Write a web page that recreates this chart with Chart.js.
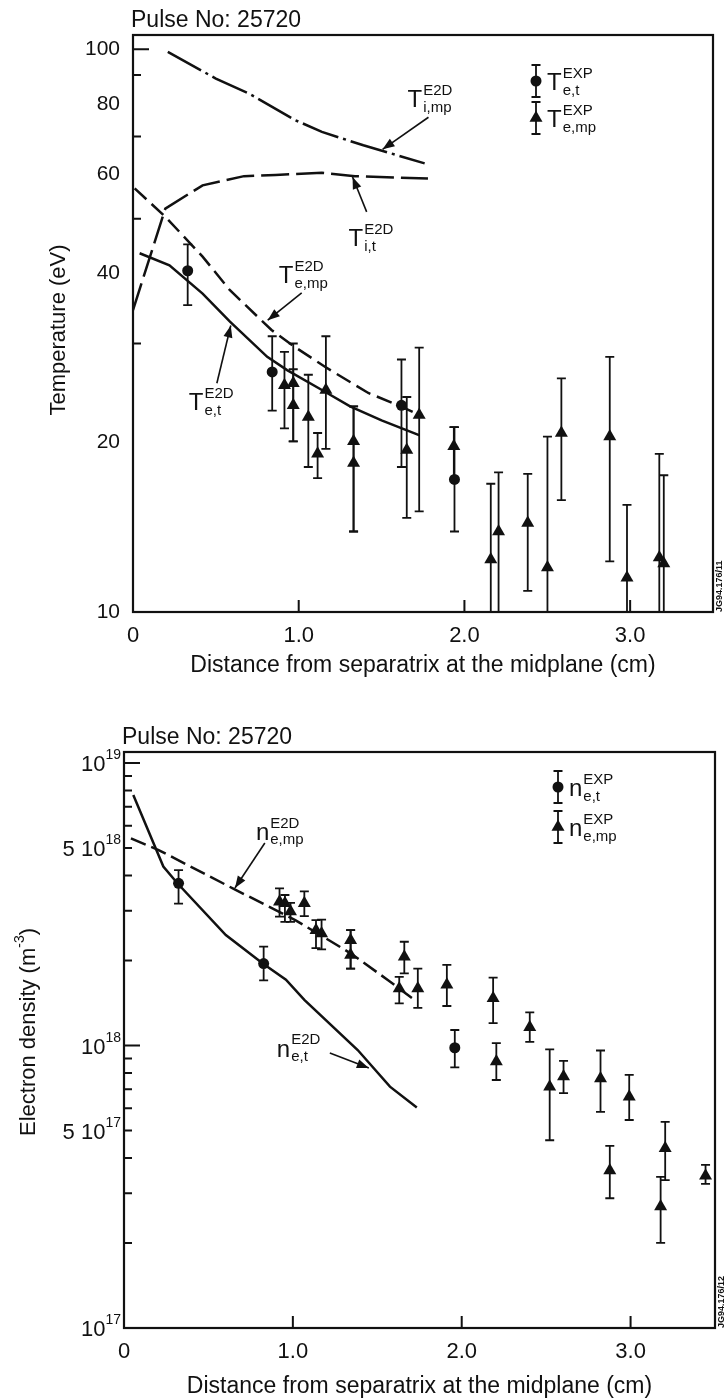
<!DOCTYPE html>
<html>
<head>
<meta charset="utf-8">
<script src="https://cdn.jsdelivr.net/npm/chart.js@4.4.0/dist/chart.umd.min.js"></script>
<style>
body { margin: 0; background: #fff; width: 724px; height: 1398px; position: relative; overflow: hidden; }
canvas { position: absolute; left: 0; }
#temp { top: 0; }
#dens { top: 690px; }
</style>
</head>
<body>
<canvas id="temp" width="724" height="690"></canvas>
<canvas id="dens" width="724" height="708"></canvas>
<script>
// ---- shared x axis ----
var xTickVals = [0, 1, 2, 3];
var xTickLabels = ['0', '1.0', '2.0', '3.0'];

// ---- temperature chart (top) ----
var tempTickVals = [10, 20, 30, 40, 50, 60, 70, 80, 90, 100];
var tempTickLabels = ['10', '20', '', '40', '', '60', '', '80', '', '100'];
var tempInnerTicks = [30, 50, 70, 90, 100];
var tempLongTicks = [100];

// E2D model curves
var tiMpX = [0.21, 0.50, 0.70, 0.98, 1.14, 1.39, 1.76];
var tiMpY = [98.9, 88.7, 83.4, 74.8, 71.3, 67.5, 62.7];
var tiTX = [0.0, 0.195, 0.42, 0.67, 0.86, 1.14, 1.34, 1.78];
var tiTY = [34.4, 52.1, 57.3, 59.5, 59.8, 60.3, 59.5, 58.9];
var teMpX = [0.01, 0.195, 0.42, 0.585, 0.836, 0.975, 1.156, 1.42, 1.616, 1.727];
var teMpY = [56.6, 50.4, 42.8, 37.3, 31.7, 29.6, 27.3, 24.5, 23.2, 22.4];
var teTX = [0.04, 0.22, 0.42, 0.585, 0.81, 0.93, 1.14, 1.31, 1.50, 1.73];
var teTY = [43.4, 41.3, 36.8, 32.8, 28.4, 26.9, 24.8, 23.2, 21.9, 20.6];

// measured Te at target (circles)
var teTExpX = [0.33, 0.84, 1.62, 1.94];
var teTExpY = [40.4, 26.7, 23.3, 17.2];
var teTExpLo = [35.1, 22.8, 18.1, 13.9];
var teTExpHi = [45.0, 30.9, 28.1, 21.3];

// measured Te at midplane (triangles)
var teMpExpX = [0.914, 0.967, 0.967, 1.058, 1.114, 1.164, 1.331, 1.331, 1.652, 1.727, 1.936, 2.159, 2.206, 2.382, 2.501, 2.585, 2.877, 2.981, 3.176, 3.203];
var teMpExpY = [25.3, 25.5, 23.3, 22.2, 19.1, 24.8, 20.1, 18.4, 19.4, 22.4, 19.7, 12.4, 13.9, 14.4, 12.0, 20.8, 20.5, 11.5, 12.5, 12.2];
var teMpExpLo = [21.2, 20.1, 20.1, 18.1, 17.3, 19.5, 13.9, 13.9, 14.7, 15.1, 17.2, 10, 10, 10.9, 10, 15.8, 12.3, 10, 10, 10];
var teMpExpHi = [29.0, 30.0, 27.0, 26.4, 20.8, 30.9, 23.2, 23.2, 24.1, 29.5, 21.3, 16.9, 17.7, 17.6, 20.5, 26.0, 28.4, 15.5, 19.1, 17.5];

// curve labels: T^E2D_sub, anchored at (x, y) = left/baseline of the T
var tempLabelX = [1.657, 1.301, 0.88, 0.337];
var tempLabelY = [78.9, 44.7, 38.4, 22.85];
var tempLabelSub = ['i,mp', 'i,t', 'e,mp', 'e,t'];
// arrows: tail -> head
var tempArrowX1 = [1.783, 1.41, 1.018, 0.506];
var tempArrowY1 = [75.7, 51.4, 36.9, 25.5];
var tempArrowX2 = [1.506, 1.325, 0.813, 0.59];
var tempArrowY2 = [66.4, 59.3, 33.0, 32.3];

// ---- density chart (bottom) ----
var densLabelVals = [1e17, 5e17, 1e18, 5e18, 1e19];
var densLabelBase = ['10', '5 10', '10', '5 10', '10'];
var densLabelExp = ['17', '17', '18', '18', '19'];
var densInnerTicks = [2e17, 3e17, 4e17, 5e17, 6e17, 7e17, 8e17, 9e17, 1e18, 2e18, 3e18, 4e18, 5e18, 6e18, 7e18, 8e18, 9e18, 1e19];
var densLongTicks = [1e18, 1e19];

var neTX = [0.055, 0.233, 0.315, 0.603, 0.822, 0.959, 1.068, 1.384, 1.575, 1.734];
var neTY = [7.7e18, 4.3e18, 3.76e18, 2.46e18, 1.95e18, 1.71e18, 1.45e18, 9.64e17, 7.15e17, 6.03e17];
var neMpX = [0.041, 0.205, 0.644, 1.014, 1.178, 1.342, 1.56, 1.707];
var neMpY = [5.41e18, 4.92e18, 3.6e18, 2.78e18, 2.43e18, 2.12e18, 1.71e18, 1.47e18];

var neTExpX = [0.323, 0.827, 1.959];
var neTExpY = [3.75e18, 1.95e18, 9.82e17];
var neTExpLo = [3.18e18, 1.70e18, 8.37e17];
var neTExpHi = [4.18e18, 2.24e18, 1.135e18];

var neMpExpX = [0.921, 0.953, 0.986, 1.068, 1.137, 1.170, 1.342, 1.342, 1.66, 1.63, 1.74, 1.912, 2.186, 2.403, 2.205, 2.521, 2.603, 2.822, 2.992, 2.877, 3.178, 3.205, 3.444];
var neMpExpY = [3.23e18, 3.19e18, 2.98e18, 3.19e18, 2.56e18, 2.49e18, 2.36e18, 2.09e18, 2.06e18, 1.59e18, 1.59e18, 1.64e18, 1.47e18, 1.16e18, 8.77e17, 7.15e17, 7.76e17, 7.65e17, 6.59e17, 3.61e17, 2.69e17, 4.33e17, 3.46e17];
var neMpExpLo = [2.86e18, 2.74e18, 2.74e18, 2.87e18, 2.21e18, 2.19e18, 1.87e18, 1.87e18, 1.80e18, 1.41e18, 1.36e18, 1.38e18, 1.20e18, 1.03e18, 7.55e17, 4.62e17, 6.78e17, 5.82e17, 5.45e17, 2.88e17, 2.0e17, 3.34e17, 3.24e17];
var neMpExpHi = [3.60e18, 3.41e18, 3.2e18, 3.51e18, 2.78e18, 2.79e18, 2.56e18, 2.56e18, 2.33e18, 1.75e18, 1.87e18, 1.93e18, 1.74e18, 1.31e18, 1.02e18, 9.69e17, 8.83e17, 9.6e17, 7.87e17, 4.41e17, 3.43e17, 5.37e17, 3.78e17];

var densLabelX = [0.781, 0.905];
var densLabelY = [5.34e18, 9.11e17];
var densLabelSub = ['e,mp', 'e,t'];
var densArrowX1 = [0.834, 1.219];
var densArrowY1 = [5.21e18, 9.4e17];
var densArrowX2 = [0.657, 1.45];
var densArrowY2 = [3.61e18, 8.32e17];

// ---- helpers ----
var FONT = "'Liberation Sans', Arial, Helvetica, sans-serif";
var INK = '#111';
Chart.defaults.font.family = FONT;
Chart.defaults.font.size = 22;
Chart.defaults.color = INK;

function pts(xs, ys) {
  return xs.map(function (x, i) { return { x: x, y: ys[i] }; });
}

function curve(xs, ys, dash) {
  return { data: pts(xs, ys), showLine: true, pointRadius: 0, borderColor: INK,
           borderWidth: 2.5, borderDash: dash, tension: 0, fill: false };
}

function marks(xs, ys, lo, hi, style, r) {
  return { data: pts(xs, ys), showLine: false, pointStyle: style, pointRadius: r,
           backgroundColor: INK, borderColor: INK, borderWidth: 0, errLo: lo, errHi: hi };
}

function symText(ctx, x, base, main, sup, sub, big, small) {
  ctx.textAlign = 'left';
  ctx.textBaseline = 'alphabetic';
  ctx.font = big + 'px ' + FONT;
  ctx.fillText(main, x, base);
  var w = ctx.measureText(main).width + 1;
  ctx.font = small + 'px ' + FONT;
  if (sup) ctx.fillText(sup, x + w, base - big * 0.52);
  if (sub) ctx.fillText(sub, x + w, base + small * 0.3);
}

function arrow(ctx, x1, y1, x2, y2) {
  ctx.beginPath(); ctx.moveTo(x1, y1); ctx.lineTo(x2, y2); ctx.stroke();
  var a = Math.atan2(y2 - y1, x2 - x1), L = 12, W = 4.5;
  ctx.beginPath();
  ctx.moveTo(x2, y2);
  ctx.lineTo(x2 - L * Math.cos(a) + W * Math.sin(a), y2 - L * Math.sin(a) - W * Math.cos(a));
  ctx.lineTo(x2 - L * Math.cos(a) - W * Math.sin(a), y2 - L * Math.sin(a) + W * Math.cos(a));
  ctx.closePath(); ctx.fill();
}

// error bars, drawn under the markers
var errorBars = {
  id: 'errorBars',
  beforeDatasetsDraw: function (chart) {
    var ctx = chart.ctx, xs = chart.scales.x, ys = chart.scales.y;
    ctx.save();
    ctx.strokeStyle = INK;
    ctx.lineWidth = 1.8;
    chart.data.datasets.forEach(function (ds) {
      if (!ds.errLo) return;
      ds.data.forEach(function (p, i) {
        var px = xs.getPixelForValue(p.x);
        var t = ys.getPixelForValue(ds.errHi[i]);
        var b = ys.getPixelForValue(ds.errLo[i]);
        ctx.beginPath();
        ctx.moveTo(px, t); ctx.lineTo(px, b);
        ctx.moveTo(px - 4.5, t); ctx.lineTo(px + 4.5, t);
        if (b < chart.chartArea.bottom - 1) { ctx.moveTo(px - 4.5, b); ctx.lineTo(px + 4.5, b); }
        ctx.stroke();
      });
    });
    ctx.restore();
  }
};

// frame, inner ticks, titles, legend, curve labels
var extras = {
  id: 'extras',
  afterDraw: function (chart, args, o) {
    var ctx = chart.ctx, a = chart.chartArea, xs = chart.scales.x, ys = chart.scales.y;
    ctx.save();
    ctx.strokeStyle = INK; ctx.fillStyle = INK;
    ctx.lineWidth = 2.2;
    ctx.strokeRect(a.left, a.top, a.right - a.left, a.bottom - a.top);

    // inward ticks
    ctx.lineWidth = 2;
    ctx.beginPath();
    o.yTicks.forEach(function (v) {
      var py = ys.getPixelForValue(v);
      var len = o.yLong.indexOf(v) >= 0 ? 16 : 8;
      ctx.moveTo(a.left, py); ctx.lineTo(a.left + len, py);
    });
    xTickVals.forEach(function (v) {
      if (v === 0) return;
      var px = xs.getPixelForValue(v);
      ctx.moveTo(px, a.bottom); ctx.lineTo(px, a.bottom - 12);
    });
    ctx.stroke();

    // y labels with exponents (density chart)
    if (o.expLabels) {
      o.expLabels.vals.forEach(function (v, i) {
        var py = ys.getPixelForValue(v) + 8;
        ctx.font = '14px ' + FONT;
        var we = ctx.measureText(o.expLabels.exp[i]).width;
        ctx.textAlign = 'right'; ctx.textBaseline = 'alphabetic';
        ctx.fillText(o.expLabels.exp[i], a.left - 3, py - 12);
        ctx.font = '22px ' + FONT;
        ctx.fillText(o.expLabels.base[i], a.left - 3 - we, py);
      });
    }

    // pulse number
    ctx.font = '23px ' + FONT;
    ctx.textAlign = 'left'; ctx.textBaseline = 'alphabetic';
    ctx.fillText(o.pulse, a.left - 2, a.top - 8);

    // x title
    ctx.textAlign = 'center';
    ctx.fillText(o.xTitle, (a.left + a.right) / 2, o.xTitleY);

    // y title (rotated, optional superscript)
    ctx.save();
    ctx.translate(o.yTitleX, o.yTitleY);
    ctx.rotate(-Math.PI / 2);
    ctx.textAlign = 'left';
    ctx.font = '22px ' + FONT;
    var w1 = ctx.measureText(o.yTitle[0]).width;
    ctx.font = '14px ' + FONT;
    var w2 = o.yTitle[1] ? ctx.measureText(o.yTitle[1]).width : 0;
    ctx.font = '22px ' + FONT;
    var w3 = o.yTitle[2] ? ctx.measureText(o.yTitle[2]).width : 0;
    var sx = -(w1 + w2 + w3) / 2;
    ctx.fillText(o.yTitle[0], sx, 8);
    if (o.yTitle[1]) {
      ctx.font = '14px ' + FONT;
      ctx.fillText(o.yTitle[1], sx + w1, -3);
      ctx.font = '22px ' + FONT;
      ctx.fillText(o.yTitle[2], sx + w1 + w2, 8);
    }
    ctx.restore();

    // legend
    o.legend.forEach(function (e, i) {
      var mx = a.right - o.legendDx, my = a.top + o.legendDy[i];
      ctx.lineWidth = 1.8;
      ctx.beginPath();
      ctx.moveTo(mx, my - 16); ctx.lineTo(mx, my + 16);
      ctx.moveTo(mx - 4.5, my - 16); ctx.lineTo(mx + 4.5, my - 16);
      ctx.moveTo(mx - 4.5, my + 16); ctx.lineTo(mx + 4.5, my + 16);
      ctx.stroke();
      Chart.helpers.drawPoint(ctx, { pointStyle: e.style, radius: e.style === 'circle' ? 5.5 : 7.5, rotation: 0, borderWidth: 0 }, mx, my);
      symText(ctx, mx + 11, my + 9, o.sym, 'EXP', e.sub, 24, 15);
    });

    // curve labels and arrows
    ctx.lineWidth = 1.6;
    o.labelX.forEach(function (lx, i) {
      symText(ctx, xs.getPixelForValue(lx), ys.getPixelForValue(o.labelY[i]), o.sym, 'E2D', o.labelSub[i], 24, 15);
    });
    o.arrowX1.forEach(function (ax, i) {
      arrow(ctx, xs.getPixelForValue(ax), ys.getPixelForValue(o.arrowY1[i]),
            xs.getPixelForValue(o.arrowX2[i]), ys.getPixelForValue(o.arrowY2[i]));
    });

    // figure code at the right edge
    ctx.save();
    ctx.translate(a.right + 7, a.bottom);
    ctx.rotate(-Math.PI / 2);
    ctx.font = 'bold 9px ' + FONT;
    ctx.textAlign = 'left'; ctx.textBaseline = 'middle';
    ctx.fillText(o.code, 0, 0);
    ctx.restore();

    ctx.restore();
  }
};

function xScale(h) {
  return {
    type: 'linear', min: 0, max: 3.5,
    grid: { display: false }, border: { display: false },
    afterBuildTicks: function (s) { s.ticks = xTickVals.map(function (v) { return { value: v }; }); },
    ticks: { padding: 3, font: { size: 22 }, maxRotation: 0,
             callback: function (v) { var i = xTickVals.indexOf(v); return i < 0 ? '' : xTickLabels[i]; } },
    afterFit: function (s) { s.height = h; }
  };
}

var tempChart = new Chart(document.getElementById('temp'), {
  type: 'scatter',
  data: {
    datasets: [
      curve(tiMpX, tiMpY, [38, 5, 3, 5]),
      curve(tiTX, tiTY, [28, 7]),
      curve(teMpX, teMpY, [16, 7]),
      curve(teTX, teTY, []),
      marks(teTExpX, teTExpY, teTExpLo, teTExpHi, 'circle', 5.5),
      marks(teMpExpX, teMpExpY, teMpExpLo, teMpExpHi, 'triangle', 7.5)
    ]
  },
  options: {
    responsive: false, animation: false,
    layout: { padding: { top: 35, right: 11, left: 0, bottom: 0 } },
    plugins: {
      legend: { display: false }, tooltip: { enabled: false },
      extras: {
        pulse: 'Pulse No: 25720',
        xTitle: 'Distance from separatrix at the midplane (cm)', xTitleY: 672,
        yTitle: ['Temperature (eV)'], yTitleX: 57, yTitleY: 330,
        yTicks: tempInnerTicks, yLong: tempLongTicks,
        sym: 'T', legend: [{ style: 'circle', sub: 'e,t' }, { style: 'triangle', sub: 'e,mp' }],
        legendDx: 177, legendDy: [46, 83],
        labelX: tempLabelX, labelY: tempLabelY, labelSub: tempLabelSub,
        arrowX1: tempArrowX1, arrowY1: tempArrowY1, arrowX2: tempArrowX2, arrowY2: tempArrowY2,
        code: 'JG94.176/11'
      }
    },
    scales: {
      x: xScale(78),
      y: {
        type: 'logarithmic', min: 10, max: 106,
        grid: { display: false }, border: { display: false },
        afterBuildTicks: function (s) { s.ticks = tempTickVals.map(function (v) { return { value: v }; }); },
        ticks: { padding: 5, autoSkip: false, font: { size: 21 },
                 callback: function (v) { var i = tempTickVals.indexOf(v); return i < 0 ? '' : tempTickLabels[i]; } },
        afterFit: function (s) { s.width = 133; }
      }
    }
  },
  plugins: [errorBars, extras]
});

var densChart = new Chart(document.getElementById('dens'), {
  type: 'scatter',
  data: {
    datasets: [
      curve(neMpX, neMpY, [16, 6]),
      curve(neTX, neTY, []),
      marks(neTExpX, neTExpY, neTExpLo, neTExpHi, 'circle', 5.5),
      marks(neMpExpX, neMpExpY, neMpExpLo, neMpExpHi, 'triangle', 7.5)
    ]
  },
  options: {
    responsive: false, animation: false,
    layout: { padding: { top: 62, right: 9, left: 0, bottom: 0 } },
    plugins: {
      legend: { display: false }, tooltip: { enabled: false },
      extras: {
        pulse: 'Pulse No: 25720',
        xTitle: 'Distance from separatrix at the midplane (cm)', xTitleY: 703,
        yTitle: ['Electron density (m', '-3', ')'], yTitleX: 27, yTitleY: 342,
        yTicks: densInnerTicks, yLong: densLongTicks,
        expLabels: { vals: densLabelVals, base: densLabelBase, exp: densLabelExp },
        sym: 'n', legend: [{ style: 'circle', sub: 'e,t' }, { style: 'triangle', sub: 'e,mp' }],
        legendDx: 157, legendDy: [35, 75],
        labelX: densLabelX, labelY: densLabelY, labelSub: densLabelSub,
        arrowX1: densArrowX1, arrowY1: densArrowY1, arrowX2: densArrowX2, arrowY2: densArrowY2,
        code: 'JG94.176/12'
      }
    },
    scales: {
      x: xScale(70),
      y: {
        type: 'logarithmic', min: 1e17, max: 1.094e19,
        grid: { display: false }, border: { display: false },
        ticks: { display: false },
        afterFit: function (s) { s.width = 124; }
      }
    }
  },
  plugins: [errorBars, extras]
});
</script>
</body>
</html>
